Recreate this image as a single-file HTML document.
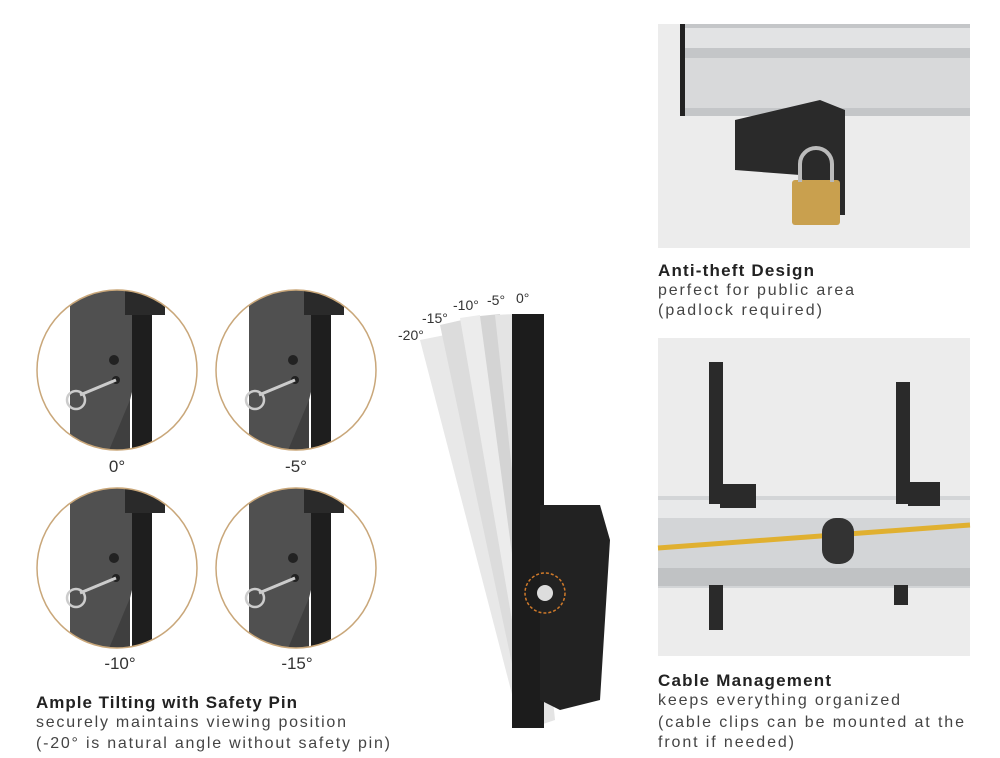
<!DOCTYPE html><html><head><style>body{margin:0;background:#fff}svg{display:block}text{font-family:"Liberation Sans",sans-serif}</style></head><body>
<svg width="1000" height="758" viewBox="0 0 1000 758" xmlns="http://www.w3.org/2000/svg">
<defs>
<clipPath id="c1"><circle cx="117" cy="370" r="80"/></clipPath>
<clipPath id="c2"><circle cx="296" cy="370" r="80"/></clipPath>
<clipPath id="c3"><circle cx="117" cy="568" r="80"/></clipPath>
<clipPath id="c4"><circle cx="296" cy="568" r="80"/></clipPath>
<g id="br">
<rect x="-40" y="-90" width="60" height="180" fill="#3f3f3f"/>
<polygon points="-40,-90 10,-90 40,-50 20,30 -5,90 -40,90" fill="#505050"/>
<rect x="22" y="-55" width="20" height="135" fill="#1e1e1e"/>
<rect x="15" y="-80" width="40" height="25" fill="#2a2a2a"/>
<circle cx="4" cy="-10" r="5" fill="#222"/>
<circle cx="6" cy="10" r="4" fill="#222"/>
<line x1="6" y1="10" x2="-30" y2="25" stroke="#ccc" stroke-width="3"/>
<circle cx="-34" cy="30" r="9" fill="none" stroke="#ccc" stroke-width="2.5"/>
</g>
</defs>
<g clip-path="url(#c1)"><rect x="30" y="280" width="180" height="180" fill="#fff"/><use href="#br" x="110" y="370"/></g>
<g clip-path="url(#c2)"><rect x="210" y="280" width="180" height="180" fill="#fff"/><use href="#br" x="289" y="370"/></g>
<g clip-path="url(#c3)"><rect x="30" y="480" width="180" height="180" fill="#fff"/><use href="#br" x="110" y="568"/></g>
<g clip-path="url(#c4)"><rect x="210" y="480" width="180" height="180" fill="#fff"/><use href="#br" x="289" y="568"/></g>
<g fill="none" stroke="#c9a77a" stroke-width="1.5">
<circle cx="117" cy="370" r="80"/><circle cx="296" cy="370" r="80"/><circle cx="117" cy="568" r="80"/><circle cx="296" cy="568" r="80"/></g>
<g font-size="17" fill="#333" text-anchor="middle">
<text x="117" y="472">0°</text><text x="296" y="472">-5°</text>
<text x="120" y="669">-10°</text><text x="297" y="669">-15°</text></g>
<text x="36" y="708" font-size="17" font-weight="bold" fill="#222" textLength="261">Ample Tilting with Safety Pin</text>
<text x="36" y="727" font-size="16" fill="#444" textLength="310">securely maintains viewing position</text>
<text x="36" y="748" font-size="16" fill="#444" textLength="354">(-20° is natural angle without safety pin)</text>
<g>
<polygon points="420,340 445,335 545,720 520,725" fill="#e8e8e8"/>
<polygon points="440,325 462,320 548,720 525,725" fill="#dcdcdc"/>
<polygon points="460,318 480,315 550,720 530,725" fill="#ececec"/>
<polygon points="480,316 500,314 552,720 535,725" fill="#d4d4d4"/>
<polygon points="495,315 515,314 555,720 540,725" fill="#e4e4e4"/>
<rect x="512" y="314" width="32" height="414" fill="#1c1c1c"/>
<polygon points="540,505 600,505 610,540 600,700 560,710 540,700" fill="#222"/>
<circle cx="545" cy="593" r="20" fill="none" stroke="#d07a2a" stroke-width="1.5" stroke-dasharray="3,2"/>
<circle cx="545" cy="593" r="8" fill="#ddd"/>
</g>
<g font-size="14" fill="#333">
<text x="398" y="340">-20°</text><text x="422" y="323">-15°</text><text x="453" y="310">-10°</text><text x="487" y="305">-5°</text><text x="516" y="303">0°</text></g>
<rect x="658" y="24" width="312" height="224" fill="#ececec"/>
<rect x="680" y="24" width="290" height="92" fill="#c4c6c8"/>
<rect x="684" y="28" width="286" height="20" fill="#e2e3e4"/>
<rect x="684" y="58" width="286" height="50" fill="#d8d9da"/>
<rect x="680" y="24" width="5" height="92" fill="#222"/>
<polygon points="735,120 820,100 845,110 845,215 820,215 800,175 735,170" fill="#2a2a2a"/>
<rect x="792" y="180" width="48" height="45" rx="3" fill="#c9a04e"/>
<path d="M800 182 v-18 a16 16 0 0 1 32 0 v18" fill="none" stroke="#bbb" stroke-width="4"/>
<text x="658" y="276" font-size="17" font-weight="bold" fill="#222" textLength="156">Anti-theft Design</text>
<text x="658" y="295" font-size="16" fill="#444" textLength="196">perfect for public area</text>
<text x="658" y="315" font-size="16" fill="#444" textLength="164">(padlock required)</text>
<rect x="658" y="338" width="312" height="318" fill="#ececec"/>
<rect x="658" y="496" width="312" height="92" fill="#d3d5d7"/>
<rect x="658" y="500" width="312" height="18" fill="#e8e9ea"/>
<rect x="658" y="568" width="312" height="18" fill="#c0c2c4"/>
<path d="M658 548 L970 525" stroke="#e0b030" stroke-width="5"/>
<rect x="709" y="362" width="14" height="142" fill="#2a2a2a"/>
<rect x="709" y="585" width="14" height="45" fill="#2a2a2a"/>
<rect x="896" y="382" width="14" height="122" fill="#2a2a2a"/>
<rect x="894" y="585" width="14" height="20" fill="#2a2a2a"/>
<rect x="720" y="484" width="36" height="24" fill="#2a2a2a"/>
<rect x="908" y="482" width="32" height="24" fill="#2a2a2a"/>
<rect x="822" y="518" width="32" height="46" rx="14" fill="#333"/>
<text x="658" y="686" font-size="17" font-weight="bold" fill="#222" textLength="173">Cable Management</text>
<text x="658" y="705" font-size="16" fill="#444" textLength="242">keeps everything organized</text>
<text x="658" y="727" font-size="16" fill="#444" textLength="306">(cable clips can be mounted at the</text>
<text x="658" y="747" font-size="16" fill="#444" textLength="136">front if needed)</text>
</svg>
</body></html>
